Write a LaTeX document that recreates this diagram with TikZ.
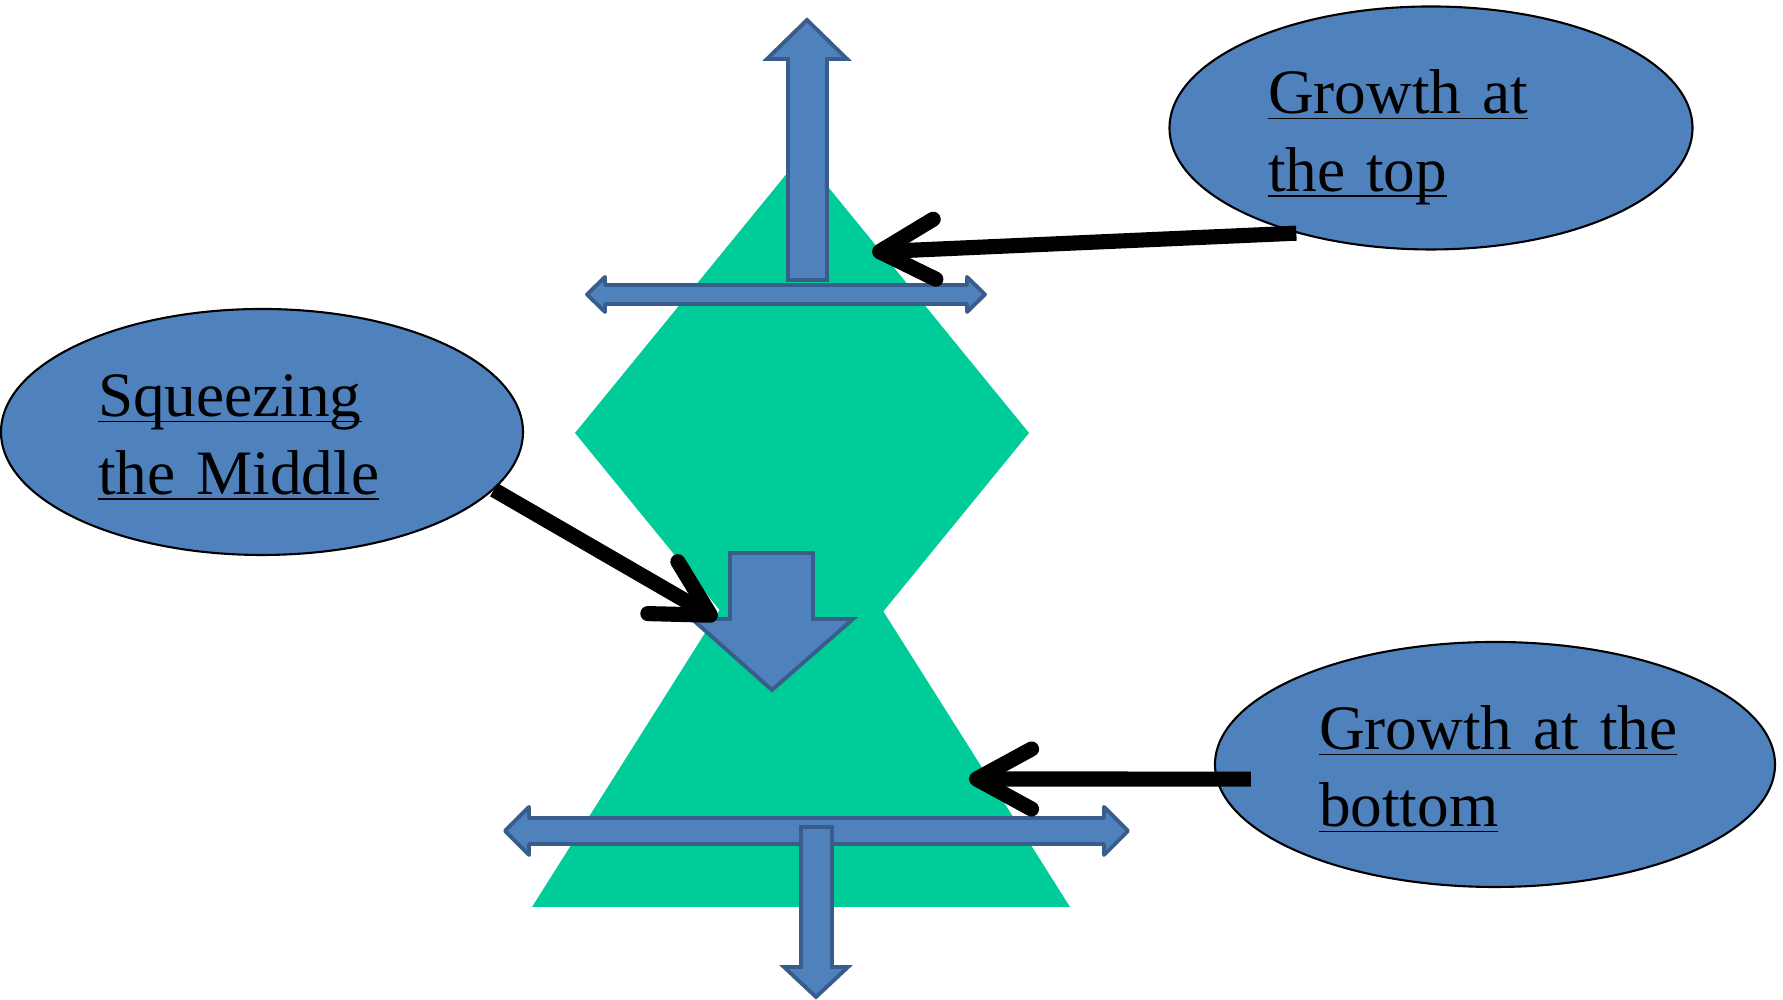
\documentclass[tikz,border=0pt]{standalone}
\usepackage{fontspec}
\setmainfont{Liberation Serif}
\usetikzlibrary{arrows.meta,shapes.geometric,calc}
\definecolor{pyrgreen}{RGB}{0,204,153}
\definecolor{officeblue}{RGB}{79,129,189}
\definecolor{edgeblue}{RGB}{56,93,138}
\newcommand{\undl}[1]{\underline{\smash{#1}}}
\tikzset{
	bubble/.style={ellipse, draw=black, line width=0.6pt, fill=officeblue, inner sep=0pt},
	bubbletext/.style={align=left, inner sep=0pt, font=\fontsize{18}{22}\selectfont},
	blockarrow/.style={fill=officeblue, draw=edgeblue, line width=1.1pt},
	pointer/.style={-{Straight Barb[length=5.5mm, width=6mm, round]}, line width=4.3pt}
}
\begin{document}
\begin{tikzpicture}
	\useasboundingbox (0,0) rectangle (17.83,10);
	
	%% -- Green body: diamond on top of a triangle
	\fill[pyrgreen] (5.75,5.67) -- (8.02,8.45) -- (10.29,5.67) -- (8.02,2.89) -- cycle;
	\fill[pyrgreen] (5.32,0.93) -- (8.01,5.19) -- (10.70,0.93) -- cycle;
	
	%% -- Block arrows at the top
	\draw[blockarrow] (7.88,7.20) -- (7.88,9.41) -- (7.67,9.41) -- (8.07,9.80)
		-- (8.47,9.41) -- (8.27,9.41) -- (8.27,7.20) -- cycle;
	\draw[blockarrow, line join=round] (5.87,7.055) -- (6.05,7.23) -- (6.05,7.15)
		-- (9.67,7.15) -- (9.67,7.23) -- (9.85,7.055) -- (9.67,6.88) -- (9.67,6.96)
		-- (6.05,6.96) -- (6.05,6.88) -- cycle;
	
	%% -- Block arrow in the middle
	\draw[blockarrow] (7.30,4.47) -- (8.13,4.47) -- (8.13,3.81) -- (8.53,3.81)
		-- (7.72,3.10) -- (6.92,3.81) -- (7.30,3.81) -- cycle;
	
	%% -- Block arrows at the bottom
	\draw[blockarrow, line join=round] (5.05,1.69) -- (5.29,1.93) -- (5.29,1.82)
		-- (11.04,1.82) -- (11.04,1.93) -- (11.28,1.69) -- (11.04,1.45) -- (11.04,1.56)
		-- (5.29,1.56) -- (5.29,1.45) -- cycle;
	\draw[blockarrow] (8.01,1.73) -- (8.32,1.73) -- (8.32,0.33) -- (8.48,0.33)
		-- (8.16,0.03) -- (7.84,0.33) -- (8.01,0.33) -- cycle;
	
	%% -- Call-out bubbles and their texts
	\node[bubble, minimum width=5.23cm, minimum height=2.43cm] (grtop) at (14.31,8.72) {};
	\node[bubble, minimum width=5.22cm, minimum height=2.46cm] (sqz) at (2.62,5.68) {};
	\node[bubble, minimum width=5.60cm, minimum height=2.45cm] (grbot) at (14.95,2.355) {};
	
	\node[bubbletext, text width=3.26cm] (grtoptxt) at ($(grtop.center)+(0,-0.28)$)
		{\undl{Growth at}\\\undl{the top}};
	\node[bubbletext, text width=3.28cm] (sqztxt) at ($(sqz.center)+(0,-0.27)$)
		{\undl{Squeezing}\\\undl{the Middle}};
	\node[bubbletext, text width=3.52cm] (grbottxt) at ($(grbot.center)+(0,-0.27)$)
		{\undl{Growth at the}\\\undl{bottom}};
	
	%% -- Pointers from the bubbles to the shape
	\coordinate (toptip) at (8.72,7.48);
	\coordinate (midtip) at (7.17,3.81);
	\coordinate (bottip) at (9.69,2.21);
	\draw[pointer] (grtop.218) -- (toptip);
	\draw[pointer] (sqz.-14) -- (midtip);
	\draw[pointer, shorten <=-3.5mm] (grbot.183) -- (bottip);
	
\end{tikzpicture}
\end{document}
